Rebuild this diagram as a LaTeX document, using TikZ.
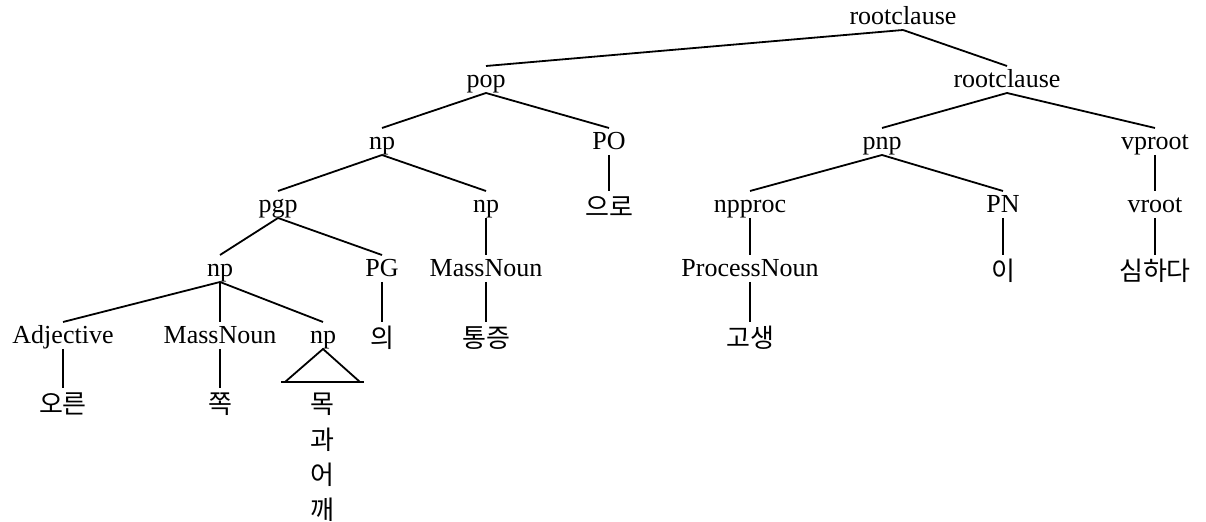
\documentclass[tikz,border=0pt]{standalone}
\usepackage{fontspec}
\setmainfont{Liberation Serif}
\newfontfamily\kofont{Noto Sans CJK KR}
\tikzset{
  lbl/.style={anchor=base, inner sep=0pt, outer sep=0pt, font=\fontsize{13}{15}\selectfont, text height=11pt, text depth=2.5pt},
  ko/.style={lbl, font=\fontsize{13}{15}\selectfont\kofont, text height=13pt, yshift=-2pt},
  edge/.style={line width=0.9pt}
}
\begin{document}
\begin{tikzpicture}[x=0.5pt,y=-0.5pt]
\useasboundingbox (0,0) rectangle (1206,522);
% level 0
\node[lbl] (r0) at (903,25) {rootclause};
% level 1
\node[lbl] (pop) at (486,88) {pop};
\node[lbl] (r1) at (1007,88) {rootclause};
% level 2
\node[lbl] (np2) at (382,150) {np};
\node[lbl] (po) at (609,150) {PO};
\node[lbl] (pnp) at (882,150) {pnp};
\node[lbl] (vproot) at (1155,150) {vproot};
% level 3
\node[lbl] (pgp) at (278,213) {pgp};
\node[lbl] (np3) at (486,213) {np};
\node[ko] (euro) at (609,213) {으로};
\node[lbl] (npproc) at (750,213) {npproc};
\node[lbl] (pn) at (1003,213) {PN};
\node[lbl] (vroot) at (1155,213) {vroot};
% level 4
\node[lbl] (np4) at (220,277) {np};
\node[lbl] (pg) at (382,277) {PG};
\node[lbl] (mass4) at (486,277) {MassNoun};
\node[lbl] (proc) at (750,277) {ProcessNoun};
\node[ko] (i) at (1003,277) {이};
\node[ko] (simhada) at (1155,277) {심하다};
% level 5
\node[lbl] (adj) at (63,344) {Adjective};
\node[lbl] (mass5) at (220,344) {MassNoun};
\node[lbl] (np5) at (323,344) {np};
\node[ko] (ui) at (382,344) {의};
\node[ko] (tongjeung) at (486,344) {통증};
\node[ko] (gosaeng) at (750,344) {고생};
% level 6
\node[ko] (oreun) at (63,410) {오른};
\node[ko] (jjok) at (220,410) {쪽};
\node[ko] (w1) at (322,410) {목};
\node[ko] (w2) at (322,446) {과};
\node[ko] (w3) at (322,481) {어};
\node[ko] (w4) at (322,516) {깨};
% triangle corners
\coordinate (tl) at (285,382);
\coordinate (tr) at (360,382);
\coordinate (tle) at (281,382);
\coordinate (tre) at (364,382);
% edges
\draw[edge] (r0.south) -- (pop.north);
\draw[edge] (r0.south) -- (r1.north);
\draw[edge] (pop.south) -- (np2.north);
\draw[edge] (pop.south) -- (po.north);
\draw[edge] (np2.south) -- (pgp.north);
\draw[edge] (np2.south) -- (np3.north);
\draw[edge] (po.south) -- (euro.north);
\draw[edge] (pgp.south) -- (np4.north);
\draw[edge] (pgp.south) -- (pg.north);
\draw[edge] (np3.south) -- (mass4.north);
\draw[edge] (mass4.south) -- (tongjeung.north);
\draw[edge] (pg.south) -- (ui.north);
\draw[edge] (np4.south) -- (adj.north);
\draw[edge] (np4.south) -- (mass5.north);
\draw[edge] (np4.south) -- (np5.north);
\draw[edge] (adj.south) -- (oreun.north);
\draw[edge] (mass5.south) -- (jjok.north);
\draw[edge] (tl) -- (np5.south) -- (tr);
\draw[edge] (tle) -- (tre);
\draw[edge] (r1.south) -- (pnp.north);
\draw[edge] (r1.south) -- (vproot.north);
\draw[edge] (pnp.south) -- (npproc.north);
\draw[edge] (pnp.south) -- (pn.north);
\draw[edge] (npproc.south) -- (proc.north);
\draw[edge] (proc.south) -- (gosaeng.north);
\draw[edge] (pn.south) -- (i.north);
\draw[edge] (vproot.south) -- (vroot.north);
\draw[edge] (vroot.south) -- (simhada.north);
\end{tikzpicture}
\end{document}
